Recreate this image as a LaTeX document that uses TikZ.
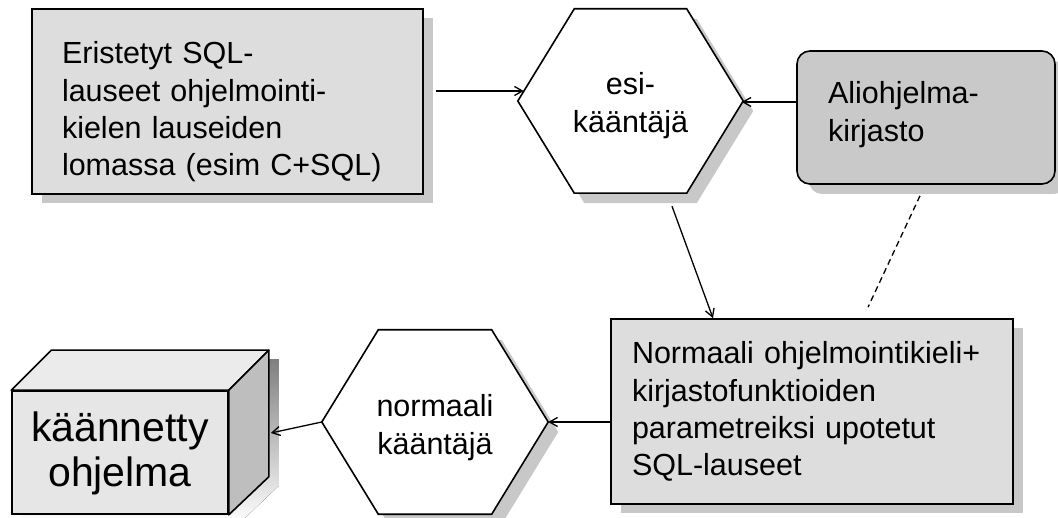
\documentclass[tikz,border=0pt]{standalone}
\usepackage{fontspec}
\setmainfont{Liberation Sans}
\usetikzlibrary{calc,shadows,arrows.meta,backgrounds}
\definecolor{shade}{HTML}{C8C8C8}
\definecolor{boxfill}{HTML}{DDDDDD}
\definecolor{libfill}{HTML}{C9C9C9}
\definecolor{frontfill}{HTML}{E6E6E6}
\definecolor{topfill}{HTML}{EBEBEB}
\definecolor{sidefill}{HTML}{BEBEBE}
\newcommand\hexagonpath[1]{(#1.west) -- ($(#1.north west)+(56.5,0)$) -- ($(#1.north east)+(-56.5,0)$) -- (#1.east) -- ($(#1.south east)+(-56.5,0)$) -- ($(#1.south west)+(56.5,0)$) -- cycle}
\begin{document}
\begin{tikzpicture}[x=1pt,y=-1pt,
  txt/.style={font=\fontsize{30.5}{37.3}\selectfont, inner sep=0pt},
  border/.style={draw, line width=1.6pt},
  shbox/.style={txt, border, fill=boxfill, align=left,
    drop shadow={shadow xshift=10pt, shadow yshift=-9pt, fill=shade, opacity=1}},
  libbox/.style={txt, border, fill=libfill, rounded corners=13pt, align=left,
    drop shadow={shadow xshift=12pt, shadow yshift=-10pt, fill=shade, opacity=1}},
  hexarea/.style={txt, align=center, text width=200pt, minimum width=225pt, minimum height=184pt},
  hexshadow/.style={fill=shade, transform canvas={xshift=10pt, yshift=-10pt}},
  hexborder/.style={border, fill=white},
  cube/.style={border, fill=frontfill, inner sep=0pt, font=\fontsize{41}{45}\selectfont, align=center},
  arr/.style={line width=1.3pt, -{Straight Barb[length=8pt,width=9pt]}},
  link/.style={line width=1.3pt, dash pattern=on 6pt off 4pt}
]
\useasboundingbox (0,0) rectangle (1058,518);
\clip (0,0) rectangle (1058,518);

\node[shbox, text width=331pt, text height=22pt, text depth=97pt,
  minimum width=391pt, minimum height=185pt] (src) at (227.5,101.5)
  {Eristetyt SQL-\\lauseet ohjelmointi-\\kielen lauseiden\\lomassa (esim C+SQL)};

\node[hexarea, text height=22pt, text depth=34pt] (esi) at (630.5,101) {esi-\\kääntäjä};

\node[libbox, text width=196pt, text height=22pt, text depth=49pt,
  minimum width=258pt, minimum height=133pt] (alio) at (926,117.5) {Aliohjelma-\\kirjasto};

\node[shbox, text width=360pt, text height=22pt, text depth=117pt,
  minimum width=402pt, minimum height=185pt] (norm) at (812,411.5)
  {Normaali ohjelmointikieli+\\kirjastofunktioiden\\parametreiksi upotetut\\SQL-lauseet};

\node[hexarea, minimum width=226pt, text height=22pt, text depth=32pt] (nk) at (435,422) {normaali\\kääntäjä};

\node[cube, text width=200pt, text height=29pt, text depth=50pt,
  minimum width=216pt, minimum height=123pt] (prog) at (120,452.5) {käännetty\\ohjelma};

% cube top and side faces
\filldraw[border, fill=topfill, line join=round] (prog.north west) -- ($(prog.north west)+(40,-40)$) -- ($(prog.north east)+(40,-40)$) -- (prog.north east) -- cycle;
\filldraw[border, fill=sidefill, line join=round] (prog.north east) -- ($(prog.north east)+(40,-40)$) -- ($(prog.south east)+(40,-38)$) -- (prog.south east) -- cycle;

\begin{scope}[on background layer]
  \fill[hexshadow] \hexagonpath{esi};
  \filldraw[hexborder] \hexagonpath{esi};
  \fill[hexshadow] \hexagonpath{nk};
  \filldraw[hexborder] \hexagonpath{nk};
  \fill[shade, transform canvas={xshift=10pt, yshift=-9pt}] (prog.south west) -- (prog.north west) -- ($(prog.north west)+(40,-40)$) -- ($(prog.north east)+(40,-40)$) -- ($(prog.south east)+(40,-38)$) -- (prog.south east) -- cycle;
\end{scope}

% connectors
\draw[arr] ($(src.east)+(12,-10.5)$) -- ($(esi.west)+(6,-10)$);
\draw[arr] ($(alio.west)+(0,-15.5)$) -- ($(esi.east)+(-1.5,1)$);
\draw[arr] ($(esi.south)+(41.5,13)$) -- ($(norm.north)+(-99,0)$);
\draw[link] ($(alio.south)+(-6,11)$) -- ($(norm.north)+(56,-11)$);
\draw[arr] ($(norm.west)+(0,10.5)$) -- (nk.east);
\draw[arr] (nk.west) -- ($(prog.east)+(42,-19.5)$);
\end{tikzpicture}
\end{document}
